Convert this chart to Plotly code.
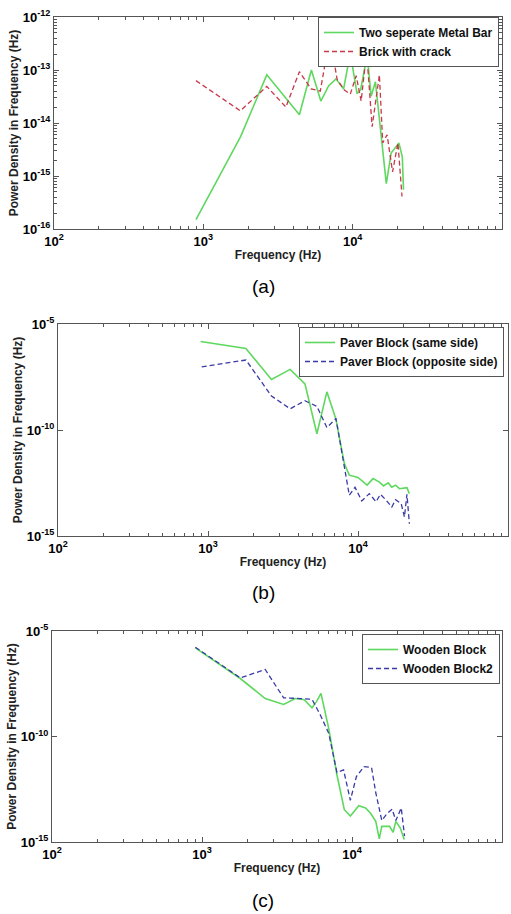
import plotly.graph_objects as go

# ---- data ----
# Panel (a)
a_metal_f = [893, 1780, 2660, 4400, 5290, 6120, 6900, 7730, 8700, 9640, 10700, 11300, 12500, 13300, 14200, 15700, 16800, 18100, 20400, 21500, 21900]
a_metal_p = [1.5e-16, 5.6e-15, 8.1e-14, 1.43e-14, 1.0e-13, 2.6e-14, 5.0e-14, 6.8e-14, 4.4e-14, 2.1e-13, 3.6e-14, 4.2e-14, 1.9e-13, 3.2e-14, 6.0e-14, 4.8e-15, 7.2e-16, 2.7e-15, 4.2e-15, 2.3e-15, 5.5e-16]
a_brick_f = [893, 1770, 2660, 3570, 4400, 5260, 6070, 7020, 7880, 8800, 9640, 10560, 11400, 12400, 13500, 15100, 15900, 17000, 18500, 20100, 21400]
a_brick_p = [6.3e-14, 1.7e-14, 4.9e-14, 2.0e-14, 9.3e-14, 4.4e-14, 4.0e-14, 4.2e-13, 6.6e-14, 4.2e-14, 3.5e-14, 7.8e-14, 2.6e-14, 2.2e-13, 8.5e-15, 8.1e-14, 4.2e-15, 6.0e-15, 1.2e-15, 4.2e-15, 4.1e-16]

# Panel (b)
b_same_f = [893, 1790, 2650, 3530, 4430, 5320, 6200, 7130, 8110, 8750, 10000, 11500, 12600, 13900, 14800, 15900, 16800, 17800, 18900, 21200, 22000]
b_same_p = [1.5e-6, 7e-7, 2.4e-8, 7.2e-8, 1.5e-8, 6.7e-11, 6.3e-9, 3.2e-10, 2.6e-12, 7.4e-13, 5.8e-13, 2.5e-13, 5.1e-13, 3.5e-13, 2.3e-13, 3.2e-13, 2.0e-13, 2.5e-13, 1.7e-13, 1.9e-13, 1.0e-13]
b_opp_f = [908, 1790, 2650, 3530, 4430, 5320, 6200, 7130, 7900, 8750, 9550, 10600, 11900, 13200, 14100, 15400, 16800, 17800, 19400, 20400, 21200, 22000]
b_opp_p = [9.5e-8, 2e-7, 4e-9, 1e-9, 2.4e-9, 1.3e-9, 1.3e-10, 3.5e-10, 5.4e-12, 8.3e-14, 2.0e-13, 4.5e-14, 1.0e-13, 4.1e-14, 9.3e-14, 4.9e-14, 2.3e-14, 5.2e-14, 3.4e-14, 7.9e-15, 9.3e-14, 3.8e-15]

# Panel (c)
c_wood_f = [903, 1800, 2640, 3500, 4190, 4800, 5410, 5800, 6210, 6990, 7940, 8890, 9750, 11100, 12300, 13300, 14400, 15200, 15800, 17800, 18800, 19600, 21000, 22300]
c_wood_p = [1.6e-6, 5.6e-8, 6.3e-9, 3.3e-9, 6.3e-9, 5.5e-9, 2.3e-9, 4.5e-9, 1.1e-8, 2.5e-10, 1.5e-12, 3.4e-14, 1.7e-14, 5.2e-14, 4.1e-14, 2.3e-14, 9.5e-15, 1.4e-15, 5.5e-15, 5.5e-15, 2.9e-15, 9.5e-15, 4.6e-15, 1.3e-15]
c_wood2_f = [903, 1800, 2640, 3500, 4530, 5410, 6150, 6990, 7940, 8790, 9750, 10700, 12000, 13500, 14400, 15800, 17100, 18500, 19600, 21300, 22400]
c_wood2_p = [1.7e-6, 6.0e-8, 1.5e-7, 6.8e-9, 6.3e-9, 5.8e-9, 1.05e-9, 1.45e-10, 1.95e-12, 2.6e-12, 9.5e-14, 1.26e-12, 3.7e-12, 3.4e-12, 2.2e-13, 1.05e-14, 2.2e-14, 3.6e-14, 1.05e-14, 4.1e-14, 1.9e-15]

x_tickvals = [1e2, 1e3, 1e4, 1e5]
x_ticktext = ["<b>10<sup>2</sup></b>", "<b>10<sup>3</sup></b>", "<b>10<sup>4</sup></b>", "<b>10<sup>5</sup></b>"]
a_ytickvals = [1e-16, 1e-15, 1e-14, 1e-13, 1e-12]
a_yticktext = ["<b>10<sup>-16</sup></b>", "<b>10<sup>-15</sup></b>", "<b>10<sup>-14</sup></b>", "<b>10<sup>-13</sup></b>", "<b>10<sup>-12</sup></b>"]
bc_ytickvals = [1e-15, 1e-10, 1e-5]
bc_yticktext = ["<b>10<sup>-15</sup></b>", "<b>10<sup>-10</sup></b>", "<b>10<sup>-5</sup></b>"]
captions = ["(a)", "(b)", "(c)"]

GREEN = "#5fd85f"
RED = "#c8384a"
BLUE = "#3a3aa8"
AX = "#555"
FONT = "Liberation Sans, Arial, sans-serif"

minor_x = [m * 10 ** e for e in (2, 3, 4) for m in range(2, 10)]
minor_ya = [m * 10.0 ** e for e in (-16, -15, -14, -13) for m in range(2, 10)]

fig = go.Figure()

fig.add_trace(go.Scatter(x=a_metal_f, y=a_metal_p, mode="lines", name="Two seperate Metal Bar",
                         line=dict(color=GREEN, width=1.6), xaxis="x", yaxis="y", legend="legend"))
fig.add_trace(go.Scatter(x=a_brick_f, y=a_brick_p, mode="lines", name="Brick with crack",
                         line=dict(color=RED, width=1.3, dash="5px,3px"), xaxis="x", yaxis="y", legend="legend"))
fig.add_trace(go.Scatter(x=b_same_f, y=b_same_p, mode="lines", name="Paver Block (same side)",
                         line=dict(color=GREEN, width=1.6), xaxis="x2", yaxis="y2", legend="legend2"))
fig.add_trace(go.Scatter(x=b_opp_f, y=b_opp_p, mode="lines", name="Paver Block (opposite side)",
                         line=dict(color=BLUE, width=1.3, dash="5px,3px"), xaxis="x2", yaxis="y2", legend="legend2"))
fig.add_trace(go.Scatter(x=c_wood_f, y=c_wood_p, mode="lines", name="Wooden Block",
                         line=dict(color=GREEN, width=1.6), xaxis="x3", yaxis="y3", legend="legend3"))
fig.add_trace(go.Scatter(x=c_wood2_f, y=c_wood2_p, mode="lines", name="Wooden Block2",
                         line=dict(color=BLUE, width=1.3, dash="5px,3px"), xaxis="x3", yaxis="y3", legend="legend3"))

W, H = 511, 914


def xdom(l, r):
    return [l / W, r / W]


def ydom(top, bottom):
    return [1 - bottom / H, 1 - top / H]


axis_common = dict(type="log", showgrid=False, zeroline=False, showline=True, mirror="allticks",
                   linecolor=AX, linewidth=1, ticks="inside", ticklen=5, tickcolor=AX,
                   automargin=False,
                   tickfont=dict(family=FONT, size=13, color="black"))
title_font = dict(family=FONT, size=12, color="#222")

panels = [
    dict(x=xdom(54, 502), y=ydom(17, 229), yr=[-16, -12], yv=a_ytickvals, yt=a_yticktext, ym=minor_ya),
    dict(x=xdom(58, 508), y=ydom(324, 536), yr=[-15, -5], yv=bc_ytickvals, yt=bc_yticktext, ym=None),
    dict(x=xdom(52, 502), y=ydom(631, 842), yr=[-15, -5], yv=bc_ytickvals, yt=bc_yticktext, ym=None),
]

layout = dict(width=W, height=H, margin=dict(l=0, r=0, t=0, b=0),
              paper_bgcolor="white", plot_bgcolor="white", showlegend=True,
              font=dict(family=FONT, color="black"))
for i, p in enumerate(panels):
    sfx = "" if i == 0 else str(i + 1)
    layout["xaxis" + sfx] = dict(axis_common, domain=p["x"], range=[2, 5], anchor="y" + sfx,
                                 tickmode="array", tickvals=x_tickvals, ticktext=x_ticktext,
                                 minor=dict(tickmode="array", tickvals=minor_x, ticks="inside",
                                            ticklen=3, tickcolor=AX),
                                 title=dict(text="<b>Frequency (Hz)</b>", font=title_font, standoff=3))
    yax = dict(axis_common, domain=p["y"], range=p["yr"], anchor="x" + sfx,
               tickmode="array", tickvals=p["yv"], ticktext=p["yt"],
               title=dict(text="<b>Power Density in Frequency (Hz)</b>", font=title_font, standoff=1))
    if p["ym"] is not None:
        yax["minor"] = dict(tickmode="array", tickvals=p["ym"], ticks="inside", ticklen=3, tickcolor=AX)
    layout["yaxis" + sfx] = yax

leg_common = dict(bgcolor="white", bordercolor=AX, borderwidth=1, xanchor="right", yanchor="top",
                  font=dict(family=FONT, size=12, color="#111"), tracegroupgap=0,
                  itemwidth=30)
layout["legend"] = dict(leg_common, x=499 / W, y=1 - 17 / H)
layout["legend2"] = dict(leg_common, x=504 / W, y=1 - 327 / H)
layout["legend3"] = dict(leg_common, x=500 / W, y=1 - 634 / H)

fig.update_layout(**layout)

for cap, ypix in zip(captions, [287, 592, 900]):
    fig.add_annotation(text=cap, x=263 / W, y=1 - ypix / H, xref="paper", yref="paper",
                       xanchor="center", yanchor="middle",
                       showarrow=False, font=dict(family="Liberation Sans, Arial", size=19, color="black"))

# bold legend labels
for tr in fig.data:
    tr.name = "<b>" + tr.name + "</b>"

fig.write_html("out.html", config={"displayModeBar": False},
               post_script="document.body.style.margin='0';document.body.style.overflow='hidden';")
